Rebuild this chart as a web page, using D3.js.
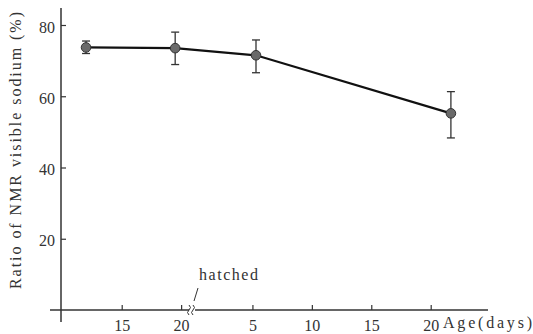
<!DOCTYPE html>
<html>
<head>
<meta charset="utf-8">
<script src="https://cdn.jsdelivr.net/npm/d3@7"></script>
<style>
  body { margin: 0; background: #fff; }
</style>
</head>
<body>
<script>
// embryo days are used directly, post-hatch days are shifted by hatchDay
const hatchDay = 21;
const stage = ["embryo", "embryo", "posthatch", "posthatch"];
const ageDays = [12, 19.5, 5.3, 21.7];
const ratio = [73.7, 73.5, 71.5, 55.2];
const errLow = [72.0, 68.9, 66.6, 48.3];
const errHigh = [75.5, 78.0, 75.8, 61.3];

const xTickPos = [15, 20, 26, 31, 36, 41];
const xTickLabels = ["15", "20", "5", "10", "15", "20"];
const yTicks = [20, 40, 60, 80];

const width = 533, height = 334;
const serif = "Liberation Serif, DejaVu Serif, serif";

const x = d3.scaleLinear().domain([15, 41]).range([121.7, 430.7]);
const y = d3.scaleLinear().domain([0, 80]).range([310, 25]);

const svg = d3.select("body").append("svg")
  .attr("width", width)
  .attr("height", height);

const pos = (i) => stage[i] === "embryo" ? ageDays[i] : hatchDay + ageDays[i];

// axes
const xAxis = d3.axisBottom(x)
  .tickValues(xTickPos)
  .tickFormat((d, i) => xTickLabels[i])
  .tickSizeInner(-5)
  .tickSizeOuter(0)
  .tickPadding(10);

const gx = svg.append("g")
  .attr("transform", `translate(0,${y(0)})`)
  .call(xAxis)
  .attr("font-family", serif)
  .attr("font-size", 16);
gx.select(".domain").remove();
gx.selectAll(".tick line").attr("stroke", "#333").attr("stroke-width", 1.2);
gx.selectAll(".tick text").attr("fill", "#333");

svg.append("line")
  .attr("x1", 50).attr("x2", 488)
  .attr("y1", y(0)).attr("y2", y(0))
  .attr("stroke", "#333").attr("stroke-width", 1.5);

const yAxis = d3.axisLeft(y)
  .tickValues(yTicks)
  .tickSizeInner(-5)
  .tickSizeOuter(0)
  .tickPadding(6);

const gy = svg.append("g")
  .attr("transform", `translate(61,0)`)
  .call(yAxis)
  .attr("font-family", serif)
  .attr("font-size", 16);
gy.select(".domain").remove();
gy.selectAll(".tick line").attr("stroke", "#333").attr("stroke-width", 1.2);
gy.selectAll(".tick text").attr("fill", "#333").attr("dy", "0.45em");

svg.append("line")
  .attr("x1", 61).attr("x2", 61)
  .attr("y1", 8).attr("y2", 322)
  .attr("stroke", "#333").attr("stroke-width", 1.5);

// axis break at hatching
const bx = x(hatchDay) - 1, by = y(0);
svg.append("rect")
  .attr("x", bx - 3).attr("y", by - 2).attr("width", 6).attr("height", 4)
  .attr("fill", "#fff");
[-2, 2].forEach(dx => {
  svg.append("path")
    .attr("d", `M${bx + dx - 1},${by - 5} q3,2.5 0,5 q-3,2.5 0,5`)
    .attr("fill", "none").attr("stroke", "#333").attr("stroke-width", 1);
});

// hatched label and pointer
svg.append("text")
  .attr("x", 199).attr("y", 280)
  .attr("font-family", serif)
  .attr("font-size", 16)
  .attr("fill", "#333")
  .attr("textLength", 59)
  .attr("lengthAdjust", "spacing")
  .text("hatched");
svg.append("line")
  .attr("x1", 198).attr("y1", 288)
  .attr("x2", 194).attr("y2", 301)
  .attr("stroke", "#333").attr("stroke-width", 1);

// axis titles
svg.append("text")
  .attr("x", 443).attr("y", 328)
  .attr("font-family", serif)
  .attr("font-size", 16)
  .attr("fill", "#333")
  .attr("textLength", 89)
  .attr("lengthAdjust", "spacing")
  .text("Age(days)");

svg.append("text")
  .attr("transform", "translate(21,289) rotate(-90)")
  .attr("font-family", serif)
  .attr("font-size", 16)
  .attr("fill", "#333")
  .attr("textLength", 277)
  .attr("lengthAdjust", "spacing")
  .text("Ratio of NMR visible sodium (%)");

// error bars
const idx = d3.range(ratio.length);
const eb = svg.append("g").attr("stroke", "#333").attr("stroke-width", 1.3);
idx.forEach(i => {
  const cx = x(pos(i));
  eb.append("line").attr("x1", cx).attr("x2", cx).attr("y1", y(errLow[i])).attr("y2", y(errHigh[i]));
  eb.append("line").attr("x1", cx - 4).attr("x2", cx + 4).attr("y1", y(errLow[i])).attr("y2", y(errLow[i]));
  eb.append("line").attr("x1", cx - 4).attr("x2", cx + 4).attr("y1", y(errHigh[i])).attr("y2", y(errHigh[i]));
});

// line
const line = d3.line()
  .x(i => x(pos(i)))
  .y(i => y(ratio[i]));
svg.append("path")
  .attr("d", line(idx))
  .attr("fill", "none")
  .attr("stroke", "#111")
  .attr("stroke-width", 2.2);

// points
svg.selectAll(".pt")
  .data(idx)
  .join("circle")
  .attr("class", "pt")
  .attr("cx", i => x(pos(i)))
  .attr("cy", i => y(ratio[i]))
  .attr("r", 4.8)
  .attr("fill", "#6a6a6a")
  .attr("stroke", "#333")
  .attr("stroke-width", 1);
</script>
</body>
</html>
